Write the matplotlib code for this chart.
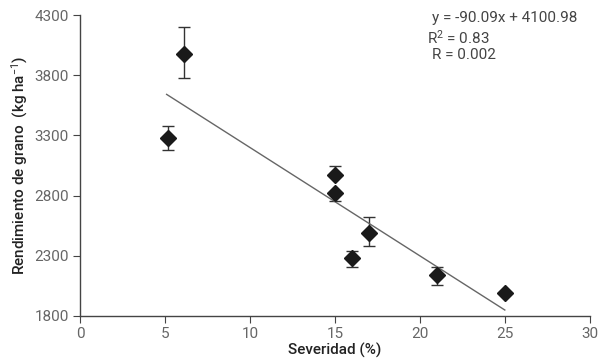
import matplotlib
matplotlib.use("Agg")
import matplotlib.pyplot as plt
import numpy as np

plt.rcParams["font.family"] = ["Roboto", "DejaVu Sans"]
plt.rcParams["mathtext.fontset"] = "custom"
plt.rcParams["mathtext.rm"] = "Roboto"
plt.rcParams["mathtext.it"] = "Roboto:italic"

# data
severidad = [5.2, 6.1, 15.0, 15.0, 16.0, 17.0, 21.0, 25.0]
rendimiento = [3280, 3980, 2970, 2825, 2280, 2490, 2140, 1990]
err_low = [100, 205, 0, 70, 70, 110, 80, 0]
err_high = [100, 220, 80, 0, 60, 135, 70, 0]

slope, intercept = -90.09, 4100.98
fit_x = np.array([5.1, 25.0])

fig = plt.figure(figsize=(6.15, 3.61), dpi=100)
ax = fig.add_axes([0.130, 0.125, 0.829, 0.833])

ax.errorbar(severidad, rendimiento, yerr=[err_low, err_high], fmt="none",
            ecolor="#333333", elinewidth=1.0, capsize=4, capthick=1.0)
ax.plot(severidad, rendimiento, "D", color="#1a1a1a", ms=8.5, zorder=3)
ax.plot(fit_x, slope * fit_x + intercept, color="#666666", lw=1.0)

ax.set_xlim(0, 30)
ax.set_ylim(1800, 4300)
ax.set_xticks([0, 5, 10, 15, 20, 25, 30])
ax.set_yticks([1800, 2300, 2800, 3300, 3800, 4300])
for s in ("top", "right"):
    ax.spines[s].set_visible(False)
for s in ("left", "bottom"):
    ax.spines[s].set_color("#444444")
    ax.spines[s].set_linewidth(1.0)
ax.tick_params(direction="out", length=5, color="#444444", labelsize=11,
               labelcolor="#666666", pad=3)

ax.set_xlabel("Severidad (%)", fontsize=11, fontweight="medium",
              color="#222222", labelpad=1)
ax.set_ylabel(r"Rendimiento de grano  (kg ha$^{-1}$)", fontsize=11,
              fontweight="medium", color="#222222", labelpad=3)

txt = dict(transform=fig.transFigure, fontsize=11, color="#444444", va="center")
fig.text(0.703, 0.950, "y = -90.09x + 4100.98", **txt)
fig.text(0.695, 0.895, r"R$^{2}$ = 0.83", **txt)
fig.text(0.703, 0.848, "R = 0.002", **txt)

fig.savefig("out.png", dpi=100)
